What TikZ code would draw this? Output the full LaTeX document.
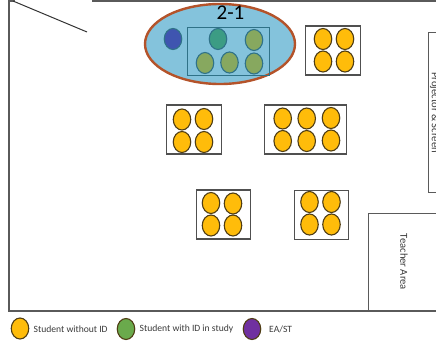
\documentclass[tikz,border=0pt]{standalone}
\usepackage{fontspec}
\setmainfont{Carlito}
\usetikzlibrary{shapes.geometric}
\definecolor{wallc}{HTML}{5A5A5A}
\definecolor{deskc}{HTML}{505050}
\definecolor{seatedge}{HTML}{4F3D14}
\definecolor{seaty}{HTML}{FFBC0A}
\definecolor{halo}{HTML}{84C3DC}
\definecolor{haloedge}{HTML}{B4532A}
\definecolor{innerc}{HTML}{2F7288}
\definecolor{olive}{HTML}{87A85F}
\definecolor{teal}{HTML}{3C9C84}
\definecolor{bluec}{HTML}{3F55B0}
\definecolor{greenc}{HTML}{6AAA4C}
\definecolor{purplec}{HTML}{7030A0}
\definecolor{textc}{HTML}{3A3A3A}
\tikzset{
  wall/.style={draw=wallc,line width=1.3pt},
  deskbox/.style={draw=deskc,line width=1.2pt,fill=white},
  seat/.style={ellipse,draw=seatedge,line width=1.1pt,fill=seaty,minimum width=17.5pt,minimum height=21pt,inner sep=0pt},
  seatg/.style={seat,draw=innerc,fill=olive},
  legendtext/.style={font=\fontsize{9.6}{11}\selectfont,text=textc,anchor=west,inner sep=0pt},
  sidetext/.style={font=\fontsize{10.6}{12}\selectfont,text=textc,rotate=-90,inner sep=0pt},
}
\begin{document}
\begin{tikzpicture}[x=1pt,y=-1pt]
\useasboundingbox (0,0) rectangle (436,340);
% room
\draw[wall] (15,1) -- (9,1) -- (9,311) -- (436,311);
\draw[wall] (92,1) -- (436,1);
\draw[draw=black!80,line width=1pt] (13,1) -- (87,32);
% side areas
\draw[wall,line width=1pt] (440,32.5) -- (428,32.5) -- (428,192) -- (440,192);
\draw[wall,line width=1pt] (368,311) -- (368,213.5) -- (440,213.5);
\node[sidetext] (projector) at (434.5,112.5) {Projector \& Screen};
\node[sidetext] (teacher) at (404,262) {Teacher Area};
% highlighted group
\node[ellipse,draw=haloedge,line width=2.4pt,fill=halo,minimum width=150pt,minimum height=80pt,inner sep=0pt] (group) at (220,44) {};
\node[draw=innerc,line width=1pt,minimum width=82pt,minimum height=48.5pt,inner sep=0pt] (gdesk) at (228.5,51.5) {};
\node[font=\fontsize{21}{24}\selectfont,text=black,inner sep=0pt] (grouplabel) at (230.5,13) {2-1};
\node[seatg,fill=bluec] (ea) at (173,39) {};
\node[seatg,fill=teal] (g1) at (218,39) {};
\node[seatg] (g2) at (254,40) {};
\node[seatg] (g3) at (205,63) {};
\node[seatg] (g4) at (229.5,62.5) {};
\node[seatg] (g5) at (254,63.5) {};
% desk 1
\node[deskbox,minimum width=54.5pt,minimum height=49pt,inner sep=0pt] (d1) at (333,50.5) {};
\node[seat] (d1a) at (323,39) {};
\node[seat] (d1b) at (345,39) {};
\node[seat] (d1c) at (323,61.5) {};
\node[seat] (d1d) at (345,61.5) {};
% desk 2
\node[deskbox,minimum width=54.5pt,minimum height=49pt,inner sep=0pt] (d2) at (194,129.5) {};
\node[seat] (d2a) at (182,119.5) {};
\node[seat] (d2b) at (204,119) {};
\node[seat] (d2c) at (182,142) {};
\node[seat] (d2d) at (204,142) {};
% desk 3
\node[deskbox,minimum width=82.5pt,minimum height=49pt,inner sep=0pt] (d3) at (305.5,129.5) {};
\node[seat] (d3a) at (282.7,118.5) {};
\node[seat] (d3b) at (306.7,118.5) {};
\node[seat] (d3c) at (331,118) {};
\node[seat] (d3d) at (282.7,141) {};
\node[seat] (d3e) at (306.7,141) {};
\node[seat] (d3f) at (331,140.5) {};
% desk 4
\node[deskbox,minimum width=54.5pt,minimum height=49pt,inner sep=0pt] (d4) at (223.5,214.5) {};
\node[seat] (d4a) at (211,203) {};
\node[seat] (d4b) at (233,203.5) {};
\node[seat] (d4c) at (211,225.5) {};
\node[seat] (d4d) at (233,225.5) {};
% desk 5
\node[deskbox,minimum width=54.5pt,minimum height=49pt,inner sep=0pt] (d5) at (321.5,215) {};
\node[seat] (d5a) at (309.5,202) {};
\node[seat] (d5b) at (331.5,202) {};
\node[seat] (d5c) at (309.5,224.5) {};
\node[seat] (d5d) at (331.5,224.5) {};
% legend
\node[seat] (k1) at (20,328.5) {};
\node[seat,fill=greenc] (k2) at (126,329) {};
\node[seat,fill=purplec] (k3) at (252,329) {};
\node[legendtext] (t1) at (33.5,329) {Student without ID};
\node[legendtext] (t2) at (139.5,329) {Student with ID in study};
\node[legendtext] (t3) at (269,329) {EA/ST};
\end{tikzpicture}
\end{document}
